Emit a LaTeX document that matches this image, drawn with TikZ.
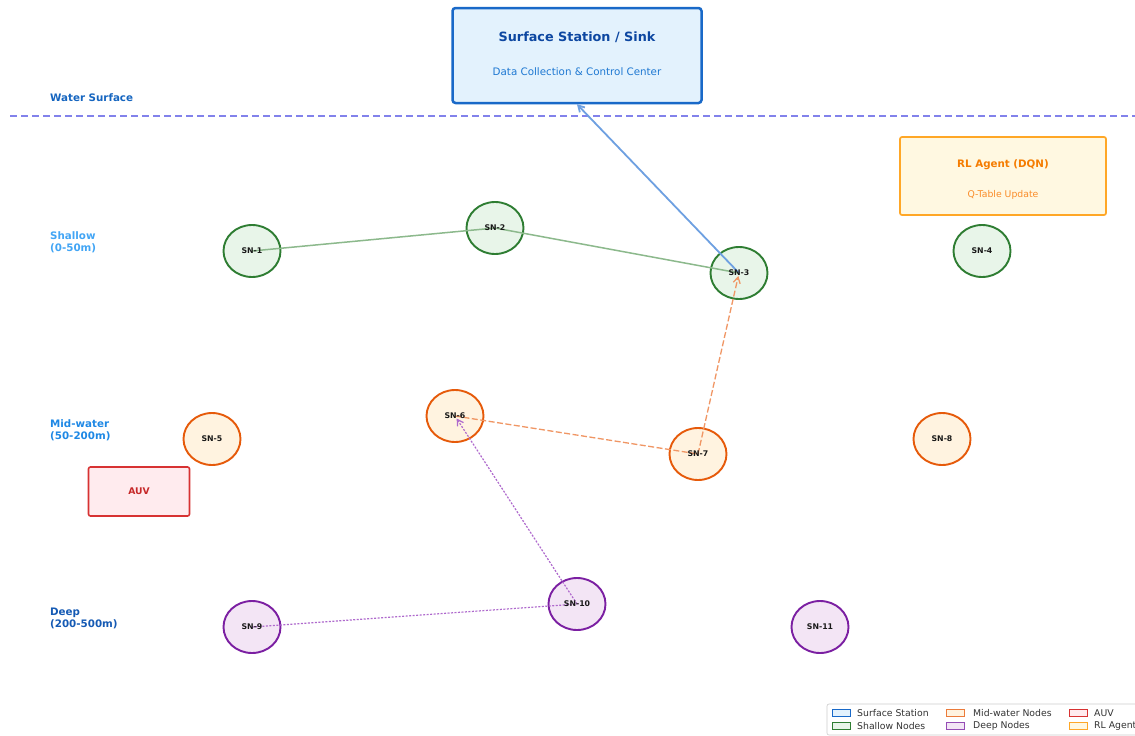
\documentclass[tikz,border=0pt]{standalone}
\usepackage{fontspec}
\setmainfont{DejaVu Sans}
\usetikzlibrary{shapes.geometric,arrows.meta}
\definecolor{sinkB}{RGB}{25,105,200}
\definecolor{sinkF}{RGB}{227,242,253}
\definecolor{sinkT}{RGB}{13,71,161}
\definecolor{sinkS}{RGB}{30,120,210}
\definecolor{shB}{RGB}{46,125,50}
\definecolor{shF}{RGB}{232,245,233}
\definecolor{midB}{RGB}{230,90,10}
\definecolor{midF}{RGB}{255,243,224}
\definecolor{deepB}{RGB}{123,31,162}
\definecolor{deepF}{RGB}{243,229,245}
\definecolor{auvB}{RGB}{215,50,50}
\definecolor{auvF}{RGB}{255,235,238}
\definecolor{auvT}{RGB}{198,40,40}
\definecolor{rlB}{RGB}{255,167,38}
\definecolor{rlF}{RGB}{255,248,225}
\definecolor{rlT}{RGB}{245,124,0}
\definecolor{rlS}{RGB}{250,140,40}
\definecolor{waterL}{RGB}{130,130,235}
\definecolor{waterT}{RGB}{21,101,192}
\definecolor{lShallow}{RGB}{66,165,245}
\definecolor{lMid}{RGB}{30,136,229}
\definecolor{lDeep}{RGB}{21,90,180}
\definecolor{eGreen}{RGB}{140,185,140}
\definecolor{eBlue}{RGB}{110,160,225}
\definecolor{eOrange}{RGB}{240,150,100}
\definecolor{ePurple}{RGB}{175,105,205}
\begin{document}
\begin{tikzpicture}[x=1pt,y=-1pt,
  sensor/.style={ellipse,minimum width=57pt,minimum height=52pt,inner sep=0pt,line width=1.9pt},
  shallow/.style={sensor,draw=shB,fill=shF},
  mid/.style={sensor,draw=midB,fill=midF},
  deep/.style={sensor,draw=deepB,fill=deepF},
  snlabel/.style={font=\fontsize{7.8}{9}\selectfont\bfseries,text=black!90},
  layerlbl/.style={anchor=west,align=left,inner sep=0pt,font=\fontsize{10.3}{12}\selectfont\bfseries},
  legpatch/.style={line width=0.8pt,minimum width=18pt,minimum height=7pt,inner sep=0pt},
  legtext/.style={anchor=west,inner sep=0pt,font=\fontsize{9.3}{10}\selectfont,text=black!80},
  arr/.style={-{Straight Barb[length=6pt,width=7pt]}}
]
\useasboundingbox (0,0) rectangle (1135,736);
\clip (0,0) rectangle (1135,736);
\fill[white] (0,0) rectangle (1135,736);

% water surface
\draw[waterL,line width=1.8pt,dash pattern=on 7pt off 4pt] (10,116) -- (1135,116);
\node[anchor=west,inner sep=0pt,font=\fontsize{10.3}{12}\selectfont\bfseries,text=waterT] (wl) at (50,98) {Water Surface};

% sink
\node[draw=sinkB,fill=sinkF,line width=2.5pt,rounded corners=3pt,minimum width=249pt,minimum height=95pt,inner sep=0pt] (sink) at (577,55.5) {};
\node[font=\fontsize{12.8}{14}\selectfont\bfseries,text=sinkT] (sinkt) at (577,37) {Surface Station / Sink};
\node[font=\fontsize{10.3}{12}\selectfont,text=sinkS] (sinks) at (577,72) {Data Collection \& Control Center};

% RL agent
\node[draw=rlB,fill=rlF,line width=1.7pt,rounded corners=2pt,minimum width=206pt,minimum height=78pt,inner sep=0pt] (rl) at (1003,176) {};
\node[font=\fontsize{10.3}{12}\selectfont\bfseries,text=rlT] (rlt) at (1003,165) {RL Agent (DQN)};
\node[font=\fontsize{9.3}{11}\selectfont,text=rlS] (rls) at (1003,195) {Q-Table Update};

% AUV
\node[draw=auvB,fill=auvF,line width=1.6pt,rounded corners=2pt,minimum width=101pt,minimum height=49pt,inner sep=0pt,font=\fontsize{9.2}{11}\selectfont\bfseries,text=auvT] (auv) at (139,491.5) {AUV};

% layer labels
\node[layerlbl,text=lShallow] (ls) at (50,242.5) {Shallow\\(0-50m)};
\node[layerlbl,text=lMid] (lm) at (50,430) {Mid-water\\(50-200m)};
\node[layerlbl,text=lDeep] (ld) at (50,618) {Deep\\(200-500m)};

% sensor nodes
\node[shallow] (sn1) at (252,251) {};
\node[shallow] (sn2) at (495,228) {};
\node[shallow] (sn3) at (739,273) {};
\node[shallow] (sn4) at (982,251) {};
\node[mid] (sn5) at (212,439) {};
\node[mid] (sn6) at (455,416) {};
\node[mid] (sn7) at (698,454) {};
\node[mid] (sn8) at (942,439) {};
\node[deep] (sn9) at (252,627) {};
\node[deep] (sn10) at (577,604) {};
\node[deep] (sn11) at (820,627) {};

% connectors
\draw[eGreen,line width=1.5pt] (sn1.center) -- (sn2.center) -- (sn3.center);
\draw[eBlue,line width=1.8pt,arr] (sn3.center) -- (sink.south);
\draw[eOrange,line width=1.3pt,dash pattern=on 6pt off 2.5pt] (sn6.center) -- (sn7.center);
\draw[eOrange,line width=1.3pt,dash pattern=on 6pt off 2.5pt,arr,shorten >=3pt] (sn7.center) -- (sn3.center);
\draw[ePurple,line width=1.2pt,dash pattern=on 2pt off 1.5pt] (sn9.center) -- (sn10.center);
\draw[ePurple,line width=1.2pt,dash pattern=on 2pt off 1.5pt,arr,shorten >=3pt] (sn10.center) -- (sn6.center);

% sensor labels
\node[snlabel] at (sn1) {SN-1};
\node[snlabel] at (sn2) {SN-2};
\node[snlabel] at (sn3) {SN-3};
\node[snlabel] at (sn4) {SN-4};
\node[snlabel] at (sn5) {SN-5};
\node[snlabel] at (sn6) {SN-6};
\node[snlabel] at (sn7) {SN-7};
\node[snlabel] at (sn8) {SN-8};
\node[snlabel] at (sn9) {SN-9};
\node[snlabel] at (sn10) {SN-10};
\node[snlabel] at (sn11) {SN-11};

% legend
\draw[black!20,fill=white,line width=0.6pt,rounded corners=2pt] (827,704) rectangle (1160,735);
\node[legpatch,draw=sinkB,fill=sinkF] (lp1) at (841,713) {};
\node[legtext] at (857,713) {Surface Station};
\node[legpatch,draw=shB,fill=shF] (lp2) at (841,726) {};
\node[legtext] at (857,726) {Shallow Nodes};
\node[legpatch,draw=midB!80,fill=midF] (lp3) at (955,713) {};
\node[legtext] at (973,713) {Mid-water Nodes};
\node[legpatch,draw=deepB!80,fill=deepF] (lp4) at (955,726) {};
\node[legtext] at (973,726) {Deep Nodes};
\node[legpatch,draw=auvB,fill=auvF] (lp5) at (1078,713) {};
\node[legtext] at (1094,713) {AUV};
\node[legpatch,draw=rlB,fill=rlF] (lp6) at (1078,726) {};
\node[legtext] at (1094,726) {RL Agent};
\end{tikzpicture}
\end{document}
